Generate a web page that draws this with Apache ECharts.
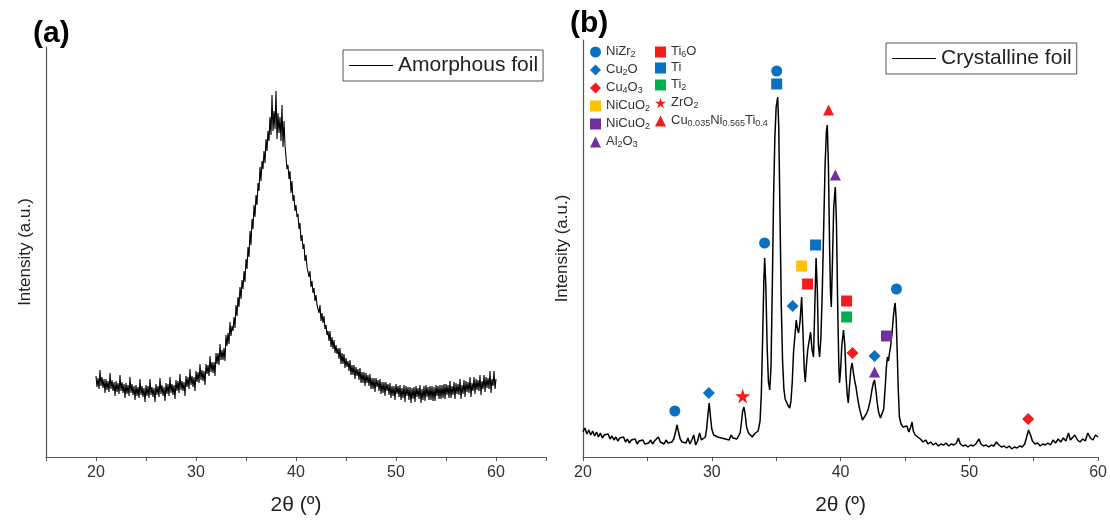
<!DOCTYPE html>
<html><head><meta charset="utf-8">
<script src="https://cdn.jsdelivr.net/npm/echarts@6/dist/echarts.min.js"></script>
<style>html,body{margin:0;padding:0;background:#fff}#c{width:1110px;height:524px}</style>
</head><body><div id="c"></div>
<script>
// ---------- DATA ----------
const xTicksA = [20, 30, 40, 50, 60];
const xTicksB = [20, 30, 40, 50, 60];
// Amorphous foil: sampled from 20.0 to 60.0 every 0.1 deg (intensity, a.u.)
const amorStart = 20, amorStep = 0.1;
const amorphous = [
81,70,79,68,87,71,80,69,78,64, 78,67,76,65,84,68,77,66,75,61,
76,65,74,63,82,66,75,64,73,59, 74,63,72,61,80,64,73,62,71,57,
72,61,70,59,78,62,71,60,69,55, 72,61,71,59,78,62,70,60,69,55,
73,62,71,60,79,63,72,61,70,56, 74,63,73,61,80,64,73,62,72,58,
77,66,76,64,83,67,76,66,75,61, 81,70,80,68,88,72,81,70,80,66,
86,75,85,74,93,77,87,76,86,72, 93,83,92,81,101,85,95,84,95,81,
104,93,104,92,113,97,107,97,109,96, 122,111,124,113,135,121,131,126,140,129,
152,141,160,150,170,158,177,168,186,175, 198,188,210,200,226,212,238,228,252,240,
262,252,274,266,290,276,296,288,306,294, 318,306,326,316,340,322,362,326,346,328,
366,318,344,324,340,316,352,310,336,312, 300,288,292,278,286,264,276,256,262,246,
252,240,243,228,234,216,222,208,213,196, 202,190,192,180,186,170,176,164,169,156,
162,152,154,144,152,136,144,134,141,128, 132,122,126,116,126,110,120,108,117,104,
112,103,109,98,109,93,104,93,103,89, 99,90,96,86,97,82,92,82,92,78,
90,81,88,77,89,74,85,74,85,71, 84,74,82,71,83,68,79,68,79,65,
79,70,77,66,78,63,75,64,75,61, 75,66,73,62,74,59,71,61,71,57,
73,63,71,60,72,57,69,59,72,55, 71,61,70,57,70,54,69,58,70,55,
71,60,69,58,72,54,68,57,71,56, 72,60,70,57,71,57,71,56,70,56,
72,61,71,58,72,58,72,59,73,58, 73,62,72,59,76,59,71,62,75,58,
74,63,73,62,78,58,72,63,77,60, 76,65,75,64,80,60,74,66,80,63,
78,67,77,66,82,62,76,68,82,65, 80,69,79,68,86,64,78,71,86,68,
78
];
// Crystalline foil: [2theta, intensity]
const crystalline = [
[20.0,25],[20.15,29],[20.3,23],[20.45,27],[20.6,22],[20.75,26],[20.9,21],[21.05,25],[21.2,20],[21.35,24],[21.5,19],[21.65,22],[21.8,20],[21.95,23],[22.1,18],[22.25,21],[22.4,17],[22.55,20],[22.7,16],[22.85,19],[23.0,17],[23.15,20],[23.3,15],[23.45,18],[23.6,14],[23.75,17],[23.9,15],[24.05,18],[24.2,13],[24.35,16],[24.5,14],[24.65,17],[24.8,13],[24.95,15],[25.1,14],[25.25,17],[25.4,13],[25.55,16],[25.7,14],[25.85,20],[26.0,15],[26.15,16],[26.3,13],[26.45,17],[26.6,14],[26.75,16],[26.9,15],[27.05,18],[27.2,26],[27.3,32],[27.4,26],[27.55,18],[27.7,15],[27.85,17],[28.0,14],[28.15,19],[28.3,13],[28.45,17],[28.6,22],[28.75,12],[28.9,16],[29.05,24],[29.2,17],[29.35,18],[29.5,20],[29.6,28],[29.7,42],[29.8,54],[29.9,40],[30.0,28],[30.15,22],[30.3,24],[30.45,20],[30.6,22],[30.75,19],[30.9,21],[31.05,18],[31.2,20],[31.35,17],[31.5,22],[31.65,19],[31.8,21],[31.95,18],[32.1,20],[32.2,24],[32.3,34],[32.4,46],[32.5,50],[32.6,42],[32.7,30],[32.85,24],[33.0,22],[33.15,20],[33.3,23],[33.45,21],[33.6,26],[33.75,36],[33.85,64],[33.95,120],[34.05,180],[34.11,199],[34.2,170],[34.3,110],[34.4,75],[34.5,67],[34.6,90],[34.7,170],[34.8,260],[34.9,320],[35.0,350],[35.12,360],[35.2,330],[35.3,240],[35.4,150],[35.5,95],[35.6,68],[35.7,58],[35.8,55],[35.9,52],[36.05,49],[36.15,56],[36.25,75],[36.35,105],[36.45,120],[36.56,137],[36.65,128],[36.74,124],[36.85,135],[36.98,160],[37.08,125],[37.18,88],[37.26,75],[37.35,92],[37.45,107],[37.56,116],[37.67,125],[37.78,108],[37.9,100],[38.0,150],[38.1,199],[38.2,165],[38.28,112],[38.37,100],[38.47,118],[38.58,165],[38.7,235],[38.8,292],[38.9,325],[38.97,332],[39.06,290],[39.15,210],[39.22,165],[39.28,150],[39.37,195],[39.47,250],[39.59,270],[39.68,235],[39.78,150],[39.86,95],[39.92,74],[40.0,86],[40.1,112],[40.23,127],[40.33,112],[40.43,80],[40.52,62],[40.6,54],[40.7,72],[40.8,88],[40.9,94],[41.0,84],[41.1,76],[41.2,70],[41.3,61],[41.4,53],[41.5,47],[41.6,42],[41.7,37],[41.85,39],[42.0,43],[42.15,48],[42.3,56],[42.45,68],[42.55,74],[42.64,77],[42.75,66],[42.85,54],[42.95,45],[43.1,39],[43.23,37],[43.35,48],[43.47,70],[43.56,90],[43.64,100],[43.72,96],[43.8,104],[43.9,112],[44.0,124],[44.1,140],[44.18,150],[44.24,154],[44.32,138],[44.4,105],[44.48,68],[44.57,40],[44.7,33],[44.85,30],[45.0,28],[45.15,31],[45.3,25],[45.45,30],[45.55,35],[45.65,26],[45.8,22],[46.0,20],[46.2,18],[46.4,15],[46.6,17],[46.8,13],[47.0,15],[47.2,12],[47.4,14],[47.6,11],[47.8,13],[48.0,12],[48.2,14],[48.4,11],[48.6,13],[48.8,12],[49.0,14],[49.15,19],[49.3,13],[49.5,11],[49.7,12],[49.9,10],[50.1,12],[50.3,11],[50.5,13],[50.75,18],[50.9,13],[51.1,11],[51.3,12],[51.5,10],[51.7,12],[51.9,11],[52.1,15],[52.3,12],[52.5,10],[52.7,11],[52.9,9],[53.1,11],[53.3,8],[53.5,10],[53.7,9],[53.9,11],[54.1,10],[54.3,13],[54.45,20],[54.6,27],[54.75,22],[54.9,16],[55.1,13],[55.3,14],[55.5,11],[55.7,13],[55.9,12],[56.1,14],[56.3,12],[56.5,17],[56.7,14],[56.9,18],[57.1,15],[57.3,19],[57.5,16],[57.7,24],[57.85,17],[58.0,15],[58.2,22],[58.4,17],[58.6,15],[58.8,18],[59.0,16],[59.2,24],[59.4,19],[59.6,17],[59.8,22],[60.0,20]
];
// Phase markers: [2theta, height]
const mNiZr2 = [[27.13,46],[34.1,214],[35.04,386],[44.34,168]];
const mCu2O = [[29.77,64],[36.28,151],[42.64,101]];
const mCu4O3 = [[40.93,104],[54.57,38]];
const mNiCuO2y = [[36.98,191]];
const mNiCuO2p = [[43.57,121]];
const mAl2O3 = [[39.6,282],[42.64,85]];
const mTi6O = [[37.44,173],[40.47,156]];
const mTi = [[35.04,373],[38.06,212]];
const mTi2 = [[40.47,140]];
const mZrO2 = [[32.4,61]];
const mCuNiTi = [[39.07,347]];

// ---------- CHART ----------
const FONT = 'Liberation Sans, Arial, sans-serif';
const amorData = amorphous.map((v, i) => [amorStart + i * amorStep, v]);
const BLUE = '#0a70c2', RED = '#f21c1c', YEL = '#ffc000', PUR = '#7030a0', GRN = '#00b050';
const STAR = 'path://M50,0 L61,35 L98,35 L68,57 L79,91 L50,70 L21,91 L32,57 L2,35 L39,35 Z';

const markerDefs = [
  {name:'NiZr2', data:mNiZr2, symbol:'circle', color:BLUE, size:11, label:'{n|NiZr}{s|2}'},
  {name:'Cu2O', data:mCu2O, symbol:'diamond', color:BLUE, size:12, label:'{n|Cu}{s|2}{n|O}'},
  {name:'Cu4O3', data:mCu4O3, symbol:'diamond', color:RED, size:12, label:'{n|Cu}{s|4}{n|O}{s|3}'},
  {name:'NiCuO2y', data:mNiCuO2y, symbol:'rect', color:YEL, size:11, label:'{n|NiCuO}{s|2}'},
  {name:'NiCuO2p', data:mNiCuO2p, symbol:'rect', color:PUR, size:11, label:'{n|NiCuO}{s|2}'},
  {name:'Al2O3', data:mAl2O3, symbol:'triangle', color:PUR, size:11, label:'{n|Al}{s|2}{n|O}{s|3}'},
  {name:'Ti6O', data:mTi6O, symbol:'rect', color:RED, size:11, label:'{n|Ti}{s|6}{n|O}'},
  {name:'Ti', data:mTi, symbol:'rect', color:BLUE, size:11, label:'{n|Ti}'},
  {name:'Ti2', data:mTi2, symbol:'rect', color:GRN, size:11, label:'{n|Ti}{s|2}'},
  {name:'ZrO2', data:mZrO2, symbol:STAR, color:RED, size:15, label:'{n|ZrO}{s|2}'},
  {name:'CuNiTi', data:mCuNiTi, symbol:'triangle', color:RED, size:11, label:'{n|Cu}{s|0.035}{n|Ni}{s|0.565}{n|Ti}{s|0.4}'}
];
const labelMap = {};
markerDefs.forEach(d => labelMap[d.name] = d.label);
const rich = {
  n: {fontSize: 13, color: '#333', fontFamily: FONT, lineHeight: 14, verticalAlign: 'top'},
  s: {fontSize: 9, color: '#333', fontFamily: FONT, lineHeight: 9, padding: [7, 0, 0, 0], verticalAlign: 'bottom'}
};

function xAxisCfg(grid, min, max, ticks) {
  return {
    type: 'value', gridIndex: grid, min: min, max: max, interval: 5,
    name: '2θ (º)', nameLocation: 'middle', nameGap: 38,
    nameTextStyle: {fontSize: 21, color: '#222', fontFamily: FONT},
    axisLine: {lineStyle: {color: '#555', width: 1.2}},
    axisTick: {show: true, inside: false, length: 4, lineStyle: {color: '#555'}},
    axisLabel: {fontSize: 16, color: '#333', fontFamily: FONT, margin: 8,
      formatter: v => ticks.indexOf(v) >= 0 ? String(v) : ''},
    splitLine: {show: false}
  };
}
function yAxisCfg(grid, max) {
  return {
    type: 'value', gridIndex: grid, min: 0, max: max,
    name: 'Intensity (a.u.)', nameLocation: 'middle', nameGap: 12,
    nameTextStyle: {fontSize: 17, color: '#222', fontFamily: FONT},
    axisLine: {show: true, lineStyle: {color: '#555', width: 1.2}},
    axisTick: {show: false}, axisLabel: {show: false}, splitLine: {show: false}
  };
}

const series = [
  {name: 'Amorphous foil', type: 'line', xAxisIndex: 0, yAxisIndex: 0, data: amorData,
   symbol: 'none', lineStyle: {color: '#000', width: 1.1}, itemStyle: {color: '#000'}, animation: false},
  {name: 'Crystalline foil', type: 'line', xAxisIndex: 1, yAxisIndex: 1, data: crystalline,
   symbol: 'none', lineStyle: {color: '#000', width: 1.5}, itemStyle: {color: '#000'}, animation: false}
];
markerDefs.forEach(d => series.push({
  name: d.name, type: 'scatter', xAxisIndex: 1, yAxisIndex: 1, data: d.data,
  symbol: d.symbol, symbolSize: d.size, itemStyle: {color: d.color, opacity: 1}, z: 5, animation: false
}));

const legendBox = {
  orient: 'horizontal', borderColor: '#555', borderWidth: 1, padding: [5, 5, 5, 6],
  itemWidth: 44, itemHeight: 1.2, textStyle: {fontSize: 21, color: '#222', fontFamily: FONT},
  selectedMode: false
};
const markerLegend = {
  orient: 'vertical', itemWidth: 11, itemHeight: 11, itemGap: 2, selectedMode: false,
  padding: 0, formatter: n => labelMap[n], textStyle: {rich: rich, fontSize: 13}
};

const option = {
  backgroundColor: '#fff',
  textStyle: {fontFamily: FONT},
  title: [
    {text: '(a)', left: 28, top: 14, textStyle: {fontSize: 30, fontWeight: 'bold', color: '#000', fontFamily: FONT}},
    {text: '(b)', left: 565, top: 4, textStyle: {fontSize: 30, fontWeight: 'bold', color: '#000', fontFamily: FONT}}
  ],
  grid: [
    {left: 46, right: 564, top: 47, bottom: 67},
    {left: 583, right: 11, top: 40, bottom: 67}
  ],
  xAxis: [xAxisCfg(0, 15, 65, xTicksA), xAxisCfg(1, 20, 60, xTicksB)],
  yAxis: [yAxisCfg(0, 410), yAxisCfg(1, 417)],
  legend: [
    Object.assign({}, legendBox, {data: [{name: 'Amorphous foil', icon: 'rect'}], left: 343, top: 50}),
    Object.assign({}, legendBox, {data: [{name: 'Crystalline foil', icon: 'rect'}], left: 886, top: 43}),
    Object.assign({}, markerLegend, {data: ['NiZr2','Cu2O','Cu4O3','NiCuO2y','NiCuO2p','Al2O3'], left: 590, top: 43}),
    Object.assign({}, markerLegend, {data: ['Ti6O','Ti','Ti2','ZrO2','CuNiTi'], left: 655, top: 43})
  ],
  series: series
};
const chart = echarts.init(document.getElementById('c'), null, {renderer: 'canvas'});
chart.setOption(option);
</script></body></html>
